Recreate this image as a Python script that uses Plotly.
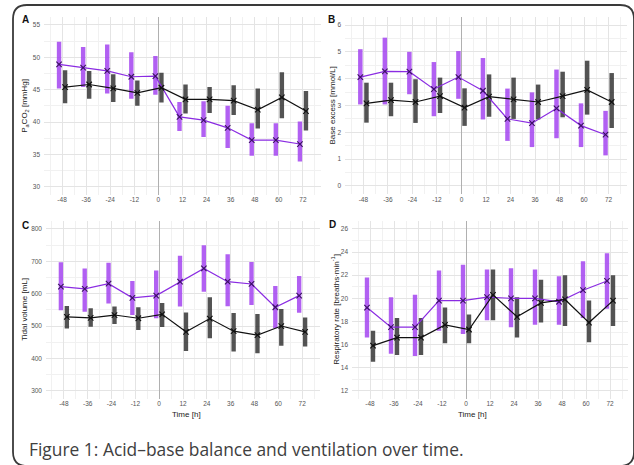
import plotly.graph_objects as go

W, H = 634, 465

times = [-48, -36, -24, -12, 0, 12, 24, 36, 48, 60, 72]
tick_labels = ["-48", "-36", "-24", "-12", "0", "12", "24", "36", "48", "60", "72"]

# Panel A: PaCO2 [mmHg]
paco2_p_mean = [48.9, 48.4, 47.9, 47.0, 47.1, 40.8, 40.3, 39.1, 37.2, 37.2, 36.6]
paco2_p_lo = [45.2, 45.4, 44.4, 43.6, 44.2, 38.6, 37.7, 36.0, 34.8, 34.8, 33.9]
paco2_p_hi = [52.4, 51.6, 52.0, 50.8, 50.2, 43.1, 43.2, 42.5, 39.8, 39.8, 40.1]
paco2_k_mean = [45.4, 45.8, 45.2, 44.5, 45.3, 43.5, 43.5, 43.3, 41.9, 43.8, 41.7]
paco2_k_lo = [42.9, 43.6, 43.1, 42.5, 43.0, 41.3, 41.4, 41.1, 39.0, 40.6, 38.7]
paco2_k_hi = [48.0, 47.9, 47.4, 46.4, 47.6, 45.8, 45.4, 45.7, 45.2, 47.7, 44.8]

# Panel B: Base excess [mmol/L]
be_p_mean = [4.06, 4.27, 4.26, 3.61, 4.06, 3.55, 2.50, 2.34, 2.89, 2.25, 1.91]
be_p_lo = [3.04, 3.04, 3.42, 2.60, 3.25, 2.48, 1.68, 1.45, 1.78, 1.45, 1.14]
be_p_hi = [5.10, 5.53, 5.00, 4.62, 5.03, 4.77, 3.63, 3.49, 4.34, 3.08, 2.80]
be_k_mean = [3.08, 3.20, 3.13, 3.35, 2.92, 3.33, 3.23, 3.13, 3.35, 3.58, 3.13]
be_k_lo = [2.36, 2.60, 2.35, 2.72, 2.24, 2.58, 2.50, 2.48, 2.56, 2.66, 2.16]
be_k_hi = [3.85, 3.85, 3.98, 4.04, 3.64, 4.16, 4.04, 3.78, 4.26, 4.67, 4.21]

# Panel C: Tidal volume [mL]
vt_p_mean = [622, 615, 631, 587, 594, 637, 678, 637, 630, 558, 594]
vt_p_lo = [549, 544, 570, 534, 524, 560, 606, 561, 565, 493, 541]
vt_p_hi = [697, 678, 696, 639, 672, 717, 750, 722, 698, 624, 655]
vt_k_mean = [528, 525, 534, 524, 536, 482, 523, 484, 472, 500, 482]
vt_k_lo = [492, 498, 506, 488, 497, 423, 462, 421, 416, 439, 437]
vt_k_hi = [562, 555, 560, 558, 571, 542, 589, 540, 537, 553, 526]

# Panel D: Respiratory rate [breaths/min]
rr_p_mean = [19.2, 17.5, 17.5, 19.8, 19.8, 20.1, 20.0, 20.0, 19.7, 20.7, 21.5]
rr_p_lo = [16.6, 15.2, 15.0, 17.2, 16.9, 18.1, 17.5, 17.7, 17.7, 18.3, 19.1]
rr_p_hi = [21.8, 20.1, 20.3, 22.4, 22.9, 22.5, 22.6, 22.5, 21.9, 23.2, 23.9]
rr_k_mean = [15.9, 16.6, 16.6, 17.7, 17.3, 20.3, 18.4, 19.6, 19.9, 17.9, 19.8]
rr_k_lo = [14.5, 15.1, 15.1, 16.1, 16.1, 18.1, 16.6, 17.9, 17.6, 16.2, 17.6]
rr_k_hi = [17.2, 18.3, 18.3, 19.2, 18.6, 22.5, 20.1, 21.6, 22.0, 19.8, 22.0]

panels = [
    dict(key="A", p=(paco2_p_mean, paco2_p_lo, paco2_p_hi), k=(paco2_k_mean, paco2_k_lo, paco2_k_hi),
         title="P<sub>a</sub>CO<sub>2</sub> [mmHg]", yr=[28.75, 56.25], dt=5, mdt=2.5,
         xpx=(44, 321), ypx=(16.9, 194.8), tx=25, lx=25, ly=20, xt=None),
    dict(key="B", p=(be_p_mean, be_p_lo, be_p_hi), k=(be_k_mean, be_k_lo, be_k_hi),
         title="Base excess [mmol/L]", yr=[-0.3, 6.3], dt=1, mdt=0.5,
         xpx=(345, 627), ypx=(17.0, 194.0), tx=332, lx=331, ly=20, xt=None),
    dict(key="C", p=(vt_p_mean, vt_p_lo, vt_p_hi), k=(vt_k_mean, vt_k_lo, vt_k_hi),
         title="Tidal volume [mL]", yr=[275, 825], dt=100, mdt=50,
         xpx=(46, 320), ypx=(220.9, 398.8), tx=25, lx=25, ly=225, xt=186),
    dict(key="D", p=(rr_p_mean, rr_p_lo, rr_p_hi), k=(rr_k_mean, rr_k_lo, rr_k_hi),
         title="Respiratory rate [breaths·min<sup>-1</sup>]", yr=[11.3, 26.7], dt=2, mdt=1,
         xpx=(352, 628), ypx=(220.9, 398.8), tx=335, lx=332, ly=224, xt=472),
]

PURPLE_BAR = "rgba(163, 68, 240, 0.85)"
PURPLE_LINE = "#8a2be2"
PURPLE_MARK = "#3a1260"
BLACK_BAR = "rgba(40, 40, 40, 0.8)"
BLACK_LINE = "#111111"
DODGE = 1.5
BARW = 2.2

fig = go.Figure()
layout = dict(width=W, height=H, margin=dict(l=0, r=0, t=0, b=0),
              paper_bgcolor="white", plot_bgcolor="white", showlegend=False,
              barmode="overlay", annotations=[], shapes=[])

tickfont = dict(family="Liberation Sans, Arial", size=6.5, color="#555555")
titlefont = dict(family="Liberation Sans, Arial", size=8, color="#222222")

for i, pn in enumerate(panels, start=1):
    xa = "x" if i == 1 else f"x{i}"
    ya = "y" if i == 1 else f"y{i}"
    for (mean, lo, hi), off, bcol in [(pn["p"], -DODGE, PURPLE_BAR), (pn["k"], DODGE, BLACK_BAR)]:
        fig.add_trace(go.Bar(x=[t + off for t in times], y=[h - l for h, l in zip(hi, lo)], base=lo,
                             width=BARW, marker=dict(color=bcol, line=dict(width=0)),
                             xaxis=xa, yaxis=ya))
    for (mean, lo, hi), off, lcol, mcol in [(pn["p"], -DODGE, PURPLE_LINE, PURPLE_MARK),
                                            (pn["k"], DODGE, BLACK_LINE, BLACK_LINE)]:
        fig.add_trace(go.Scatter(x=[t + off for t in times], y=mean, mode="lines+markers",
                                 line=dict(color=lcol, width=1.2),
                                 marker=dict(symbol="x-thin", size=5.5, line=dict(color=mcol, width=1.1)),
                                 xaxis=xa, yaxis=ya))
    x0, x1 = pn["xpx"]
    y0, y1 = pn["ypx"]
    xk = "xaxis" if i == 1 else f"xaxis{i}"
    yk = "yaxis" if i == 1 else f"yaxis{i}"
    layout[xk] = dict(domain=[x0 / W, x1 / W], range=[-57, 81], anchor=ya,
                      tickvals=times, ticktext=tick_labels, tickfont=tickfont,
                      showgrid=True, gridcolor="#e4e4e4", gridwidth=0.9,
                      minor=dict(dtick=6, tick0=0, showgrid=True, gridcolor="#f1f1f1", gridwidth=0.6),
                      zeroline=True, zerolinecolor="#b0b0b0", zerolinewidth=1.4,
                      showline=False, ticks="", fixedrange=True)
    layout[yk] = dict(domain=[1 - y1 / H, 1 - y0 / H], range=pn["yr"], anchor=xa,
                      dtick=pn["dt"], tick0=0, tickfont=tickfont,
                      showgrid=True, gridcolor="#e4e4e4", gridwidth=0.9,
                      minor=dict(dtick=pn["mdt"], tick0=0, showgrid=True, gridcolor="#f1f1f1", gridwidth=0.6),
                      zeroline=False, showline=False, ticks="", ticklabelstandoff=3)
    layout["annotations"].append(dict(x=pn["tx"] / W, y=1 - (y0 + y1) / 2 / H, xref="paper", yref="paper",
                                      text=pn["title"], textangle=-90, showarrow=False,
                                      font=titlefont, xanchor="center", yanchor="middle"))
    layout["annotations"].append(dict(x=pn["lx"] / W, y=1 - pn["ly"] / H, xref="paper", yref="paper",
                                      text="<b>" + pn["key"] + "</b>", showarrow=False,
                                      font=dict(family="Liberation Sans, Arial", size=10, color="#111111"),
                                      xanchor="center", yanchor="middle"))
    if pn["xt"] is not None:
        layout["annotations"].append(dict(x=pn["xt"] / W, y=1 - 414 / H, xref="paper", yref="paper",
                                          text="Time [h]", showarrow=False, font=titlefont,
                                          xanchor="center", yanchor="middle"))

# caption
layout["annotations"].append(dict(x=27 / W, y=1 - 449 / H, xref="paper", yref="paper",
                                  text="Figure 1: Acid–base balance and ventilation over time.",
                                  showarrow=False, xanchor="left", yanchor="middle",
                                  font=dict(family="Open Sans", size=17.4, color="#404040")))

# rounded border frame
bx0, bx1, by0, by1, r = 13, 634, 5, 466, 14
def px(x):
    return x / W
def py(y):
    return 1 - y / H
path = (f"M {px(bx0)},{py(by0 + r)} Q {px(bx0)},{py(by0)} {px(bx0 + r)},{py(by0)} "
        f"L {px(bx1 - r)},{py(by0)} Q {px(bx1)},{py(by0)} {px(bx1)},{py(by0 + r)} "
        f"L {px(bx1)},{py(by1 - r)} Q {px(bx1)},{py(by1)} {px(bx1 - r)},{py(by1)} "
        f"L {px(bx0 + r)},{py(by1)} Q {px(bx0)},{py(by1)} {px(bx0)},{py(by1 - r)} Z")
layout["shapes"].append(dict(type="path", path=path, xref="paper", yref="paper",
                             line=dict(color="#3a3a3a", width=1.8), layer="above"))

fig.update_layout(**layout)
fig.write_html("out.html")
